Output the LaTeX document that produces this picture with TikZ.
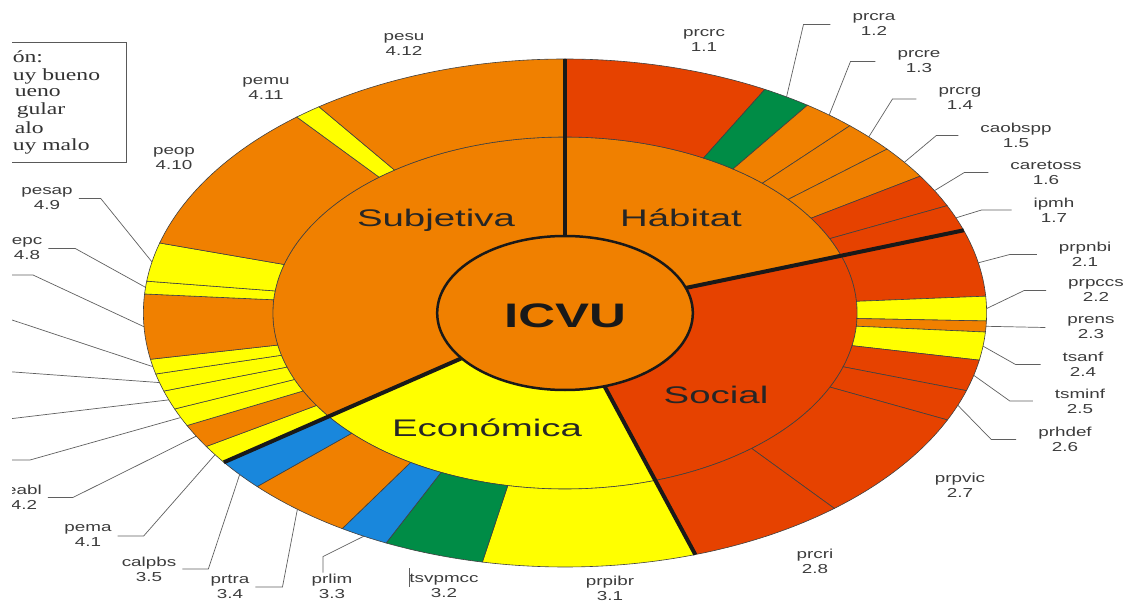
\documentclass[tikz,border=0pt]{standalone}
\usepackage{fontspec}
\setmainfont{Liberation Serif}
\setsansfont{Liberation Sans}
\definecolor{naranja}{RGB}{240,128,0}
\definecolor{rojo}{RGB}{230,66,0}
\definecolor{amarillo}{RGB}{255,255,0}
\definecolor{verde}{RGB}{0,140,70}
\definecolor{azul}{RGB}{25,135,220}
\definecolor{guia}{RGB}{95,95,95}
\definecolor{texto}{RGB}{60,60,60}

\begin{document}
\begin{tikzpicture}[x=1pt,y=-1pt,
    seg/.style={draw=black!75,line width=0.6pt},
    major/.style={black!90,line width=4pt},
    leader/.style={draw=guia,line width=0.7pt},
    lbl/.style={font=\sffamily\fontsize{13}{15}\selectfont,text=texto,align=center,xscale=1.45,inner xsep=4pt,inner ysep=1pt},
    lblR/.style={lbl,inner xsep=15pt},
    dim/.style={font=\sffamily\fontsize{24}{28}\selectfont,text=black!85,xscale=1.6},
    leyenda/.style={font=\fontsize{17}{20}\selectfont,text=black!80,anchor=west,inner sep=0pt,xscale=1.39}]
  \useasboundingbox (0,0) rectangle (1128,604);
  \clip (12,0) rectangle (1128,604);

  % leyenda
  \draw[black!65,line width=1pt] (0,43) rectangle (126,163);
  \node[leyenda] (ley0) at (12.5,57) {ón:};
  \node[leyenda] (ley1) at (12.5,76) {uy bueno};
  \node[leyenda] (ley2) at (14.5,93) {ueno};
  \node[leyenda] (ley3) at (16.5,110) {gular};
  \node[leyenda] (ley4) at (14.5,128) {alo};
  \node[leyenda] (ley5) at (12.5,146) {uy malo};

  \begin{scope}[shift={(565,313)},x=1.66pt,y=1pt]
    % anillo de dimensiones
    \foreach \a/\b/\c in {19/90/naranja,90/216/naranja,216/288/amarillo,288/379/rojo}
      \filldraw[seg,fill=\c] (\a:77) arc[start angle=\a,end angle=\b,radius=77]
        -- (\b:176) arc[start angle=\b,end angle=\a,radius=176] -- cycle;
    % anillo de variables
    \foreach \a/\b/\c in {90/61.7/rojo,61.7/54.9/verde,54.9/47.5/naranja,47.5/40.2/naranja,
        40.2/32.6/naranja,32.6/25/rojo,25/19/rojo,
        19/3.8/rojo,3.8/-1.8/amarillo,-1.8/-4.3/naranja,-4.3/-10.7/amarillo,
        -10.7/-17.8/rojo,-17.8/-24.9/rojo,-24.9/-50.3/rojo,-50.3/-72/rojo,
        -72/-101.3/amarillo,-101.3/-115.1/verde,-115.1/-121.9/azul,-121.9/-136.9/naranja,-136.9/-144/azul,
        216/211.7/amarillo,211.7/206.3/naranja,206.3/202.2/amarillo,202.2/197.9/amarillo,
        197.9/193.9/amarillo,193.9/190.5/amarillo,190.5/175.7/naranja,175.7/172.8/amarillo,
        172.8/164/amarillo,164/129.5/naranja,129.5/125.7/amarillo,125.7/90/naranja}
      \filldraw[seg,fill=\c] (\a:176) arc[start angle=\a,end angle=\b,radius=176]
        -- (\b:254) arc[start angle=\b,end angle=\a,radius=254] -- cycle;
    \foreach \a in {19,90,216,288}
      \draw[major] (\a:77) -- (\a:254);
    \filldraw[fill=naranja,draw=black!90,line width=2.5pt] (0,0) circle[radius=77];
    % puntos de las guias
    \foreach \n/\a in {12/58.3,13/51.2,14/43.9,15/36.4,16/28.8,17/22,
        21/11.4,22/1,23/-3,24/-7.5,25/-14.2,26/-21.3,
        33/-118.5,34/-129.4,35/219.5,
        41/213.9,42/209,43/204.3,44/200,45/195.9,46/192.2,47/183.1,48/174.2,49/168.4}
      \coordinate (p\n) at (\a:254);
  \end{scope}

  \node[font=\sffamily\bfseries\fontsize{34}{40}\selectfont,text=black!90,xscale=1.5] (icvu) at (565,316) {ICVU};
  \node[dim] (hab) at (681,218) {Hábitat};
  \node[dim] (subj) at (436,220) {Subjetiva};
  \node[dim] (econ) at (487,428) {Económica};
  \node[dim] (soc) at (716,395) {Social};

  % etiquetas
  \node[lbl] (l11) at (704,41) {prcrc\\1.1};
  \node[lblR] (l12) at (874,24.5) {prcra\\1.2};
  \node[lblR] (l13) at (919,61.5) {prcre\\1.3};
  \node[lblR] (l14) at (960,99) {prcrg\\1.4};
  \node[lblR] (l15) at (1016,135.5) {caobspp\\1.5};
  \node[lblR] (l16) at (1046,172.5) {caretoss\\1.6};
  \node[lblR] (l17) at (1054,210) {ipmh\\1.7};
  \node[lblR] (l21) at (1085,254.5) {prpnbi\\2.1};
  \node[lblR] (l22) at (1096,290.5) {prpccs\\2.2};
  \node[lblR] (l23) at (1091,327.5) {prens\\2.3};
  \node[lblR] (l24) at (1083,364.5) {tsanf\\2.4};
  \node[lblR] (l25) at (1080,401) {tsminf\\2.5};
  \node[lblR] (l26) at (1065,439.5) {prhdef\\2.6};
  \node[lbl] (l27) at (960,485) {prpvic\\2.7};
  \node[lbl] (l28) at (815,561) {prcri\\2.8};
  \node[lbl] (l31) at (610,588) {prpibr\\3.1};
  \node[lbl] (l32) at (444,586) {tsvpmcc\\3.2};
  \node[lbl] (l33) at (332,586) {prlim\\3.3};
  \node[lbl] (l34) at (230,587) {prtra\\3.4};
  \node[lbl] (l35) at (149,569) {calpbs\\3.5};
  \node[lbl] (l41) at (88,536) {pema\\4.1};
  \node[lbl] (l42) at (24,497.5) {eabl\\4.2};
  \node[lbl] (l48) at (27,248.5) {epc\\4.8};
  \node[lbl] (l49) at (47,198.5) {pesap\\4.9};
  \node[lbl] (l410) at (174,159) {peop\\4.10};
  \node[lbl] (l411) at (266,89) {pemu\\4.11};
  \node[lbl] (l412) at (404,45) {pesu\\4.12};

  \coordinate (e43) at (0,460);
  \coordinate (e44) at (0,420);
  \coordinate (e45) at (0,371);
  \coordinate (e46) at (0,316);
  \coordinate (e47) at (0,275);
  \coordinate (t32a) at (409,568);
  \coordinate (t32b) at (409,587);

  % guias
  \draw[leader] (p12) -- ([xshift=-27pt]l12.west) -- (l12.west);
  \draw[leader] (p13) -- ([xshift=-25pt]l13.west) -- (l13.west);
  \draw[leader] (p14) -- ([xshift=-24pt]l14.west) -- (l14.west);
  \draw[leader] (p15) -- ([xshift=-22pt]l15.west) -- (l15.west);
  \draw[leader] (p16) -- ([xshift=-24pt]l16.west) -- (l16.west);
  \draw[leader] (p17) -- ([xshift=-30pt]l17.west) -- (l17.west);
  \draw[leader] (p21) -- ([xshift=-27pt]l21.west) -- (l21.west);
  \draw[leader] (p22) -- ([xshift=-22pt]l22.west) -- (l22.west);
  \draw[leader] (p23) -- (l23.west);
  \draw[leader] (p24) -- ([xshift=-25pt]l24.west) -- (l24.west);
  \draw[leader] (p25) -- ([xshift=-23pt]l25.west) -- (l25.west);
  \draw[leader] (p26) -- ([xshift=-25pt]l26.west) -- (l26.west);
  \draw[leader] (p49) -- ([xshift=22pt]l49.east) -- (l49.east);
  \draw[leader] (p48) -- ([xshift=27pt]l48.east) -- (l48.east);
  \draw[leader] (p47) -- ([xshift=33pt]e47) -- (e47);
  \draw[leader] (p46) -- (e46);
  \draw[leader] (p45) -- (e45);
  \draw[leader] (p44) -- (e44);
  \draw[leader] (p43) -- ([xshift=30pt]e43) -- (e43);
  \draw[leader] (p42) -- ([xshift=25pt]l42.east) -- (l42.east);
  \draw[leader] (p41) -- ([xshift=26pt]l41.east) -- (l41.east);
  \draw[leader] (p35) -- ([xshift=26pt]l35.east) -- (l35.east);
  \draw[leader] (p34) -- ([xshift=27pt]l34.east) -- (l34.east);
  \draw[leader] (p33) -- ([xshift=-9pt,yshift=16pt]l33.north) -- ([xshift=-9pt]l33.north);
  \draw[leader] (t32a) -- (t32b);
\end{tikzpicture}
\end{document}
